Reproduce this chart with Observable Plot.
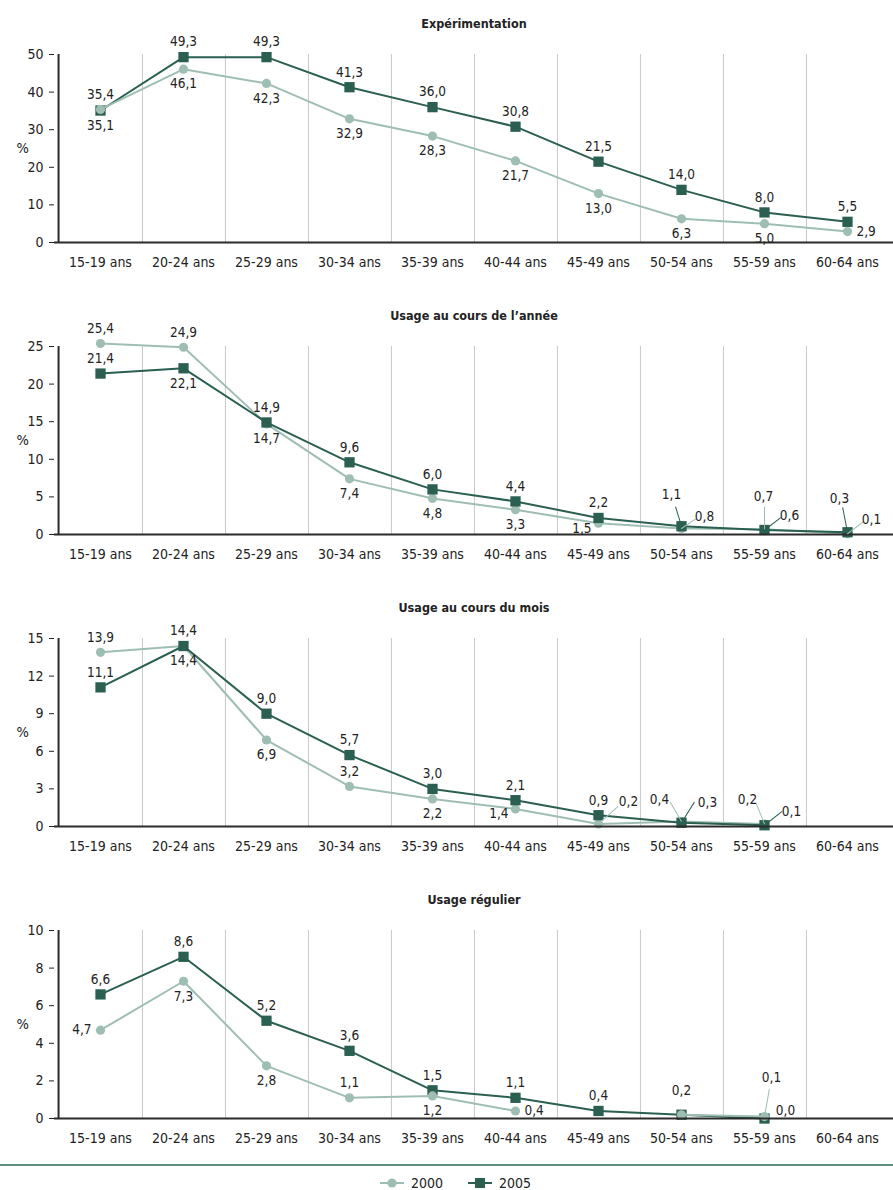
<!DOCTYPE html>
<html>
<head>
<meta charset="utf-8">
<script src="https://cdn.jsdelivr.net/npm/d3@7"></script>
<script src="https://cdn.jsdelivr.net/npm/@observablehq/plot@0.6"></script>
<style>
  body { margin: 0; background: #fff; }
  svg { display: block; }
  #rule { height: 2px; background: #5e8f80; margin-top: 2px; width: 893px; }
</style>
</head>
<body>
<div id="chart"></div>
<div id="rule"></div>
<div id="legend"></div>
<script>
// ---------- data ----------
const ages = ["15-19 ans","20-24 ans","25-29 ans","30-34 ans","35-39 ans","40-44 ans","45-49 ans","50-54 ans","55-59 ans","60-64 ans"];
const seriesNames = ["2000", "2005"];
const titles = ["Expérimentation", "Usage au cours de l’année", "Usage au cours du mois", "Usage régulier"];

const exp2000 = [35.4, 46.1, 42.3, 32.9, 28.3, 21.7, 13.0, 6.3, 5.0, 2.9];
const exp2005 = [35.1, 49.3, 49.3, 41.3, 36.0, 30.8, 21.5, 14.0, 8.0, 5.5];
const annee2000 = [25.4, 24.9, 14.7, 7.4, 4.8, 3.3, 1.5, 0.8, 0.7, 0.1];
const annee2005 = [21.4, 22.1, 14.9, 9.6, 6.0, 4.4, 2.2, 1.1, 0.6, 0.3];
const mois2000 = [13.9, 14.4, 6.9, 3.2, 2.2, 1.4, 0.2, 0.4, 0.2, null];
const mois2005 = [11.1, 14.4, 9.0, 5.7, 3.0, 2.1, 0.9, 0.3, 0.1, null];
const regulier2000 = [4.7, 7.3, 2.8, 1.1, 1.2, 0.4, null, 0.2, 0.1, null];
const regulier2005 = [6.6, 8.6, 5.2, 3.6, 1.5, 1.1, 0.4, 0.2, 0.0, null];

const ticksExp = [0, 10, 20, 30, 40, 50];
const ticksAnnee = [0, 5, 10, 15, 20, 25];
const ticksMois = [0, 3, 6, 9, 12, 15];
const ticksRegulier = [0, 2, 4, 6, 8, 10];

// ---------- label placement (style, separate from data) ----------
const L = (angle, len, dx, dy) => ({angle, len, dx, dy});
const O = (dx, dy) => ({dx, dy});
const posExp2000 = ["t","b","b","b","b","b","b","b","b","r"];
const posExp2005 = ["b","t","t","t","t","t","t","t","t","t"];
const posAnnee2000 = ["t","t","b","b","b","b","lb", L(56,18,23,-12), L(0,22,-1,-33), L(53,20,24,-14)];
const posAnnee2005 = ["t","b","t","t","t","t","t", L(-17,20,-10,-32), L(53,20,25,-14), L(-11,25,-8,-34)];
const posMois2000 = ["t","b","b","t","b","lb", L(48,26,30,-22), L(-30,22,-22,-22), L(-22,22,-17,-24), null];
const posMois2005 = ["t","t","t","t","t","t","t", L(32,24,26,-20), L(52,22,27,-14), null];
const posRegulier2000 = ["l","b","b","t","b","r", null, null, L(10,28,7,-39), null];
const posRegulier2005 = ["t","t","t","t","t","t","t", O(0,-24), O(21,-8), null];

// ---------- styles ----------
const FONT = '"Liberation Sans Narrow", "DejaVu Sans Condensed", "Roboto", sans-serif';
const W = 893, ML = 54, MT = 54;
const step = (W - ML) / ages.length;
const colors = {"2000": "#9fbeb3", "2005": "#2a5f51"};
const symbols = {"2000": "circle", "2005": "square"};
const radius = {"2000": 4.6, "2005": 5.8};
const simple = {
  t: {dy: -15},
  b: {dy: 15},
  r: {dx: 9, textAnchor: "start"},
  l: {dx: -9, textAnchor: "end"},
  lb: {dx: -7, dy: 5, textAnchor: "end"}
};
const fmt = v => v.toFixed(1).replace(".", ",");

const panels = [
  {title: titles[0], a: exp2000, b: exp2005, pa: posExp2000, pb: posExp2005, ticks: ticksExp, order: ["2005","2000"], h: 292},
  {title: titles[1], a: annee2000, b: annee2005, pa: posAnnee2000, pb: posAnnee2005, ticks: ticksAnnee, order: ["2000","2005"], h: 292},
  {title: titles[2], a: mois2000, b: mois2005, pa: posMois2000, pb: posMois2005, ticks: ticksMois, order: ["2000","2005"], h: 292},
  {title: titles[3], a: regulier2000, b: regulier2005, pa: posRegulier2000, pb: posRegulier2005, ticks: ticksRegulier, order: ["2005","2000"], h: 286}
];

const leaderShape = { draw(context, l) { context.moveTo(0, 0); context.lineTo(0, -l); } };

function buildPanel(p) {
  const rows = [];
  [["2000", p.a, p.pa], ["2005", p.b, p.pb]].forEach(([s, vals, pos]) => {
    vals.forEach((v, i) => rows.push({age: ages[i], v, s, pos: pos[i]}));
  });
  const marks = [
    Plot.ruleX(ages.slice(0, -1), {dx: step / 2, stroke: "#c8c8c8", strokeWidth: 1}),
  ];
  for (const s of p.order) {
    const sr = rows.filter(r => r.s === s);
    marks.push(Plot.line(sr, {x: "age", y: "v", stroke: colors[s], strokeWidth: 2}));
    marks.push(Plot.dot(sr.filter(r => r.v != null), {x: "age", y: "v", symbol: symbols[s], r: radius[s], fill: colors[s], stroke: "none"}));
  }
  marks.push(Plot.ruleX([ages[0]], {dx: -step / 2, stroke: "#2b2b2b", strokeWidth: 2}));
  marks.push(Plot.ruleY([0], {stroke: "#2b2b2b", strokeWidth: 2}));
  // labels
  const labelled = rows.filter(r => r.v != null && r.pos != null);
  for (const code of Object.keys(simple)) {
    marks.push(Plot.text(labelled.filter(r => r.pos === code), {
      x: "age", y: "v", text: r => fmt(r.v), fill: "#222", fontSize: 13.5, ...simple[code]
    }));
  }
  for (const r of labelled.filter(r => typeof r.pos === "object")) {
    if (r.pos.len) {
      marks.push(Plot.vector([r], {x: "age", y: "v", length: r.pos.len, rotate: r.pos.angle, anchor: "start",
        shape: leaderShape, r: 0, stroke: colors[r.s], strokeWidth: 1}));
    }
    marks.push(Plot.text([r], {x: "age", y: "v", text: d => fmt(d.v), fill: "#222", fontSize: 13.5, dx: r.pos.dx, dy: r.pos.dy}));
  }
  marks.push(Plot.text([p.title], {text: d => d, frameAnchor: "top", dy: -35, fontWeight: "bold", fontSize: 12.5, fill: "#222"}));
  marks.push(Plot.text(["%"], {text: d => d, frameAnchor: "left", dx: -38, fontSize: 14.5, fill: "#222"}));

  return Plot.plot({
    width: W, height: p.h,
    marginLeft: ML, marginRight: 0, marginTop: MT, marginBottom: p.h - 242,
    style: {fontFamily: FONT, fontSize: "14px", color: "#222", background: "#fff", overflow: "visible"},
    x: {type: "point", domain: ages, padding: 0.5, tickSize: 0, tickPadding: 15, label: null},
    y: {domain: [0, p.ticks[p.ticks.length - 1]], ticks: p.ticks, tickSize: 5, tickPadding: 6, label: null, tickFormat: d => String(d)},
    marks
  });
}

const chart = document.getElementById("chart");
panels.forEach(p => chart.appendChild(buildPanel(p)));

// legend
const lg = d3.select("#legend").append("svg").attr("width", W).attr("height", 26)
  .style("font-family", FONT).style("font-size", "14px");
const items = [
  {name: seriesNames[0], x: 380},
  {name: seriesNames[1], x: 468}
];
items.forEach(it => {
  const g = lg.append("g").attr("transform", `translate(${it.x},17)`);
  g.append("line").attr("x1", 0).attr("x2", 24).attr("stroke", colors[it.name]).attr("stroke-width", 2);
  if (symbols[it.name] === "circle") g.append("circle").attr("cx", 12).attr("r", 4.6).attr("fill", colors[it.name]);
  else g.append("rect").attr("x", 7).attr("y", -5).attr("width", 10).attr("height", 10).attr("fill", colors[it.name]);
  g.append("text").attr("x", 31).attr("y", 5).attr("fill", "#222").text(it.name);
});
</script>
</body>
</html>
